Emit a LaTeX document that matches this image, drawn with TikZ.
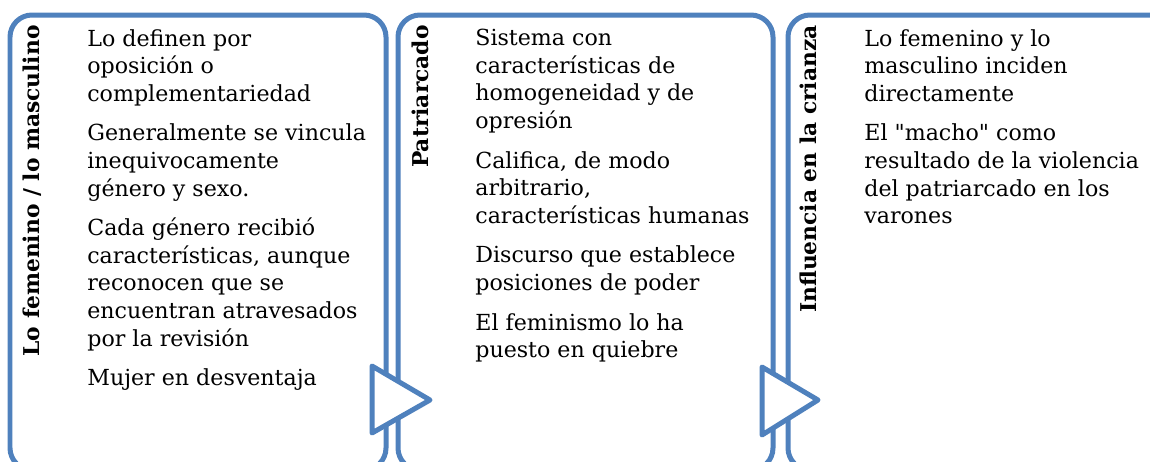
\documentclass[tikz,border=0pt]{standalone}
\usepackage{fontspec}
\setmainfont{DejaVu Serif}
\usetikzlibrary{positioning}
\definecolor{panelblue}{HTML}{4F81BD}

\begin{document}
\begin{tikzpicture}[x=0.02cm,y=-0.02cm,
  panel/.style={draw=panelblue, line width=0.1cm, rounded corners=0.44cm, fill=white},
  arrowhead/.style={draw=panelblue, line width=0.1cm, fill=white, line join=round},
  title/.style={rotate=90, anchor=east, inner sep=0pt, font=\bfseries\fontsize{12.4}{15}\selectfont},
  items/.style={anchor=north west, align=left, inner sep=0pt, font=\fontsize{12.6}{15.7}\selectfont}]
\useasboundingbox (0,0) rectangle (1150,461);
\clip (0,0) rectangle (1150,461);

% the three panels
\draw[panel] (10,15) rectangle (386,470);
\draw[panel] (398,15) rectangle (773,470);
\draw[panel] (788,15) rectangle (1170,470);

% titles
\node[title] (t1) at (32,25) {Lo femenino / lo masculino};
\node[title] (t2) at (420,25) {Patriarcado};
\node[title] (t3) at (808,25) {Influencia en la crianza};

% bodies
\node[items] (b1) at (87,29) {Lo definen por\\ oposición o\\ complementariedad\\[0.24cm]
Generalmente se vincula\\ inequivocamente\\ género y sexo.\\[0.24cm]
Cada género recibió\\ características, aunque\\ reconocen que se\\ encuentran atravesados\\ por la revisión\\[0.24cm]
Mujer en desventaja};
\node[items] (b2) at (475,29) {Sistema con\\ características de\\ homogeneidad y de\\ opresión\\[0.24cm]
Califica, de modo\\ arbitrario,\\ características humanas\\[0.24cm]
Discurso que establece\\ posiciones de poder\\[0.24cm]
El feminismo lo ha\\ puesto en quiebre};
\node[items] (b3) at (864,29) {Lo femenino y lo\\ masculino inciden\\ directamente\\[0.24cm]
El \textquotedbl macho\textquotedbl{} como\\ resultado de la violencia\\ del patriarcado en los\\ varones};

% arrows between panels
\draw[arrowhead] (372,366) -- (372,433) -- (430,400) -- cycle;
\draw[arrowhead] (762,367) -- (762,435) -- (818,400) -- cycle;
\end{tikzpicture}
\end{document}
